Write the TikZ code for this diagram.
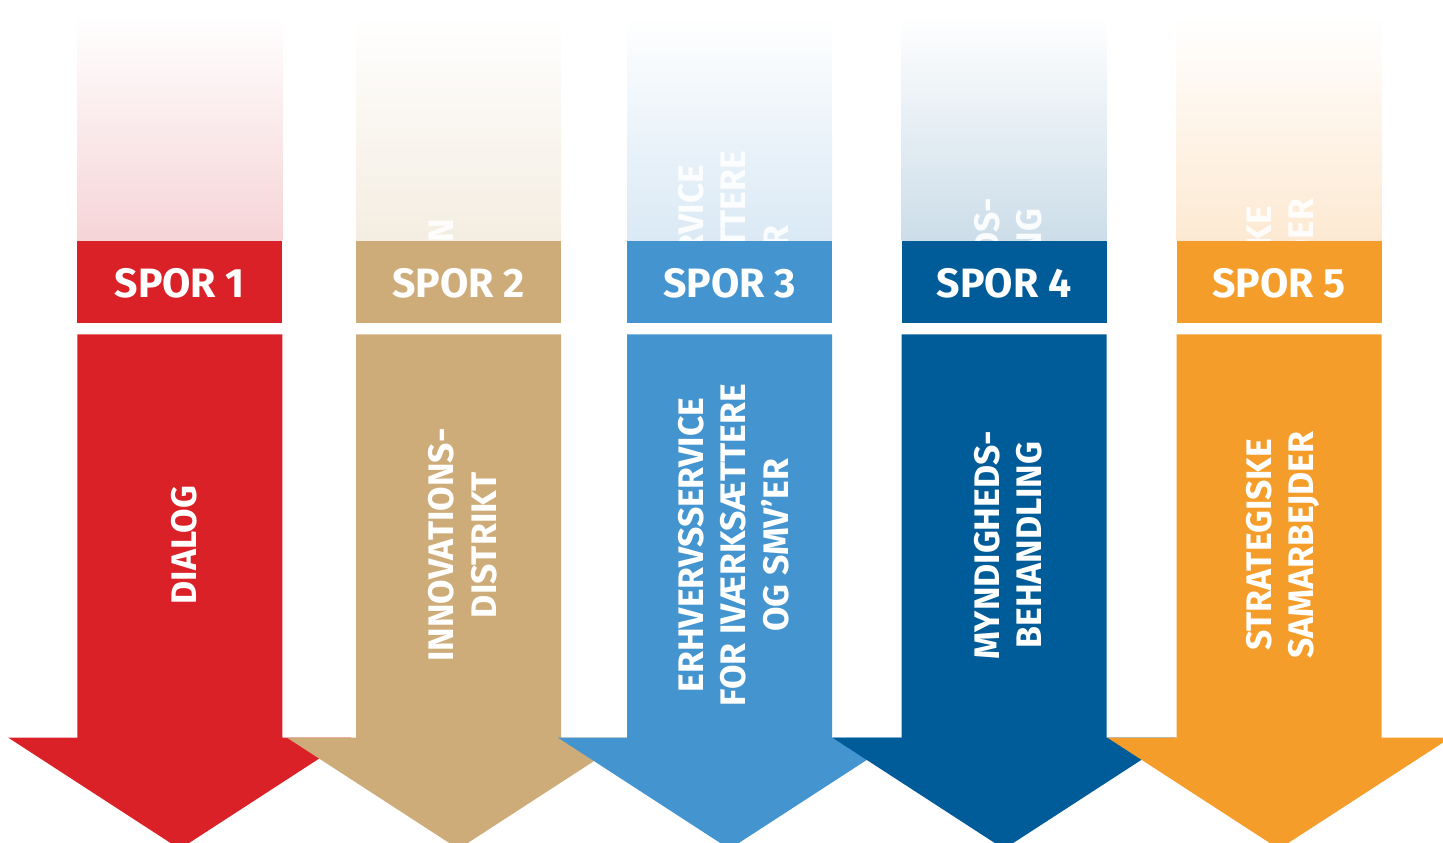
\documentclass[tikz,border=0pt]{standalone}
\usepackage{fontspec}
\setmainfont{Fira Sans}
\usetikzlibrary{calc}
\definecolor{sred}{HTML}{DA2128}
\definecolor{stan}{HTML}{CEAC7A}
\definecolor{slblue}{HTML}{4394CF}
\definecolor{sdblue}{HTML}{005C99}
\definecolor{sorange}{HTML}{F59D2A}
\definecolor{tred}{HTML}{F6D4D7}
\definecolor{ttan}{HTML}{F4EDE1}
\definecolor{tlblue}{HTML}{DAE9F5}
\definecolor{tdblue}{HTML}{CCDDE9}
\definecolor{torange}{HTML}{FDE9D2}
\tikzset{
  headtext/.style={text=white, font=\fontsize{41}{48}\selectfont\bfseries, inner sep=0pt},
  bodytext/.style={text=white, rotate=90, align=center, inner sep=0pt,
    font=\fontsize{35.5}{42.5}\selectfont\bfseries},
}
% #1 left x, #2 colour, #3 tint, #4 number, #5 body text, #6 ghost text, #7 ghost y
\newcommand{\sporcol}[7]{%
  \pgfmathsetmacro\cx{#1+102.5}
  \shade[top color=white, bottom color=#3] (#1,15) rectangle ($(#1,15)+(205,225.7)$);
  \begin{scope}
    \clip (#1,15) rectangle ($(#1,15)+(205,225.7)$);
    \node[bodytext, opacity=0.9] (ghost#4) at (\cx+4,#7) {#6};
  \end{scope}
  \fill[#2] (#1,240.7) rectangle ($(#1,240.7)+(205,82.6)$);
  \node[headtext] (head#4) at (\cx,283) {SPOR #4};
  \fill[#2] (#1,334.3) -- ($(#1,334.3)+(205,0)$) -- ($(#1,737.7)+(205,0)$)
    -- (\cx+171.5,737.7) -- (\cx,849) -- (\cx-171.5,737.7) -- (#1,737.7) -- cycle;
  \node[bodytext] (body#4) at (\cx+4,545) {#5};
}
\begin{document}
\begin{tikzpicture}[x=1pt,y=-1pt]
  \useasboundingbox (0,0) rectangle (1443,843);
  \clip (0,0) rectangle (1443,843);
  \sporcol{77.3}{sred}{tred}{1}{DIALOG}{DIALOG}{312}
  \sporcol{356}{stan}{ttan}{2}{INNOVATIONS-\\DISTRIKT}{INNOVATION\phantom{S-}\\\phantom{DISTRIKT}}{301}
  \sporcol{627}{slblue}{tlblue}{3}{ERHVERVSSERVICE\\FOR IVÆRKSÆTTERE\\OG SMV’ER}{ERHVERVSSERVICE\\FOR IVÆRKSÆTTERE\\OG SMV’ER}{312}
  \sporcol{901.5}{sdblue}{tdblue}{4}{MYNDIGHEDS-\\BEHANDLING}{MYNDIGHEDS-\\BEHANDLING}{312}
  \sporcol{1176.5}{sorange}{torange}{5}{STRATEGISKE\\SAMARBEJDER}{STRATEGISKE\\SAMARBEJDER}{312}
\end{tikzpicture}
\end{document}
